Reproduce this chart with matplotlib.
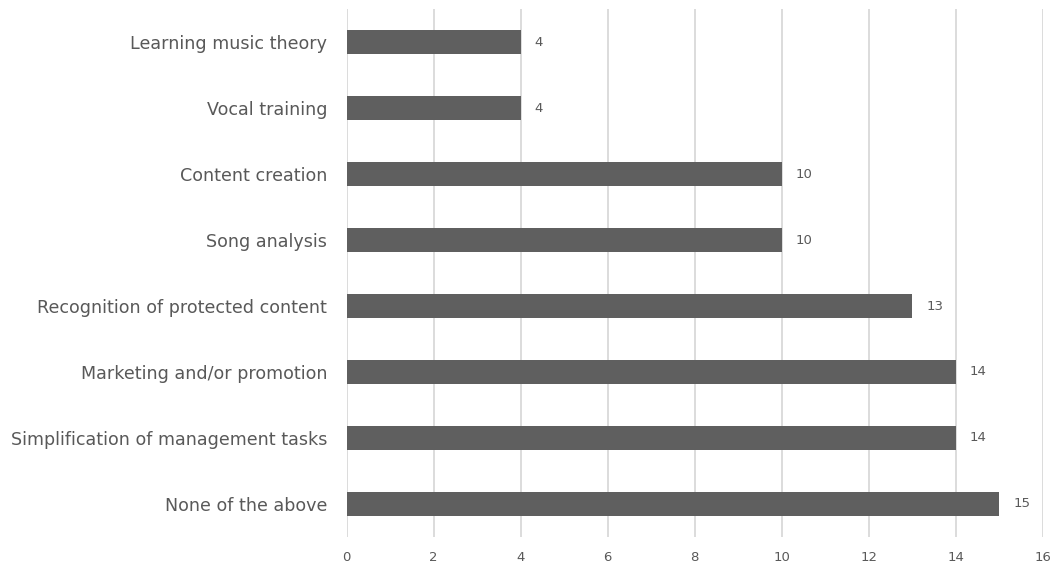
import matplotlib
matplotlib.use("Agg")
import matplotlib.pyplot as plt

categories = [
    "None of the above",
    "Simplification of management tasks",
    "Marketing and/or promotion",
    "Recognition of protected content",
    "Song analysis",
    "Content creation",
    "Vocal training",
    "Learning music theory",
]
counts = [15, 14, 14, 13, 10, 10, 4, 4]
x_ticks = list(range(0, 17, 2))

text_col = "#595959"
bar_col = "#5f5f5f"
grid_col = "#d9d9d9"

plt.rcParams["font.family"] = ["DejaVu Sans"]

fig = plt.figure(figsize=(10.62, 5.70), dpi=100)
ax = fig.add_axes([0.3265, 0.0579, 0.6553, 0.9263])

y = range(len(categories))
bars = ax.barh(y, counts, height=0.355, color=bar_col, zorder=3)

for b, v in zip(bars, counts):
    ax.annotate(str(v), (b.get_width(), b.get_y() + b.get_height() / 2),
                xytext=(10, 0), textcoords="offset points",
                ha="left", va="center", fontsize=9.5, color=text_col)

ax.set_xlim(0, 16)
ax.set_ylim(-0.5, len(categories) - 0.5)
ax.set_xticks(x_ticks)
ax.set_xticklabels([str(t) for t in x_ticks], fontsize=9.5, color=text_col)
ax.set_yticks(list(y))
ax.set_yticklabels(categories, fontsize=12.6, color=text_col)
ax.tick_params(axis="both", length=0)
ax.tick_params(axis="x", pad=10)
ax.tick_params(axis="y", pad=14)

ax.grid(axis="x", color=grid_col, linewidth=1.3, zorder=0)
for s in ax.spines.values():
    s.set_visible(False)

fig.savefig("out.png", dpi=100)
